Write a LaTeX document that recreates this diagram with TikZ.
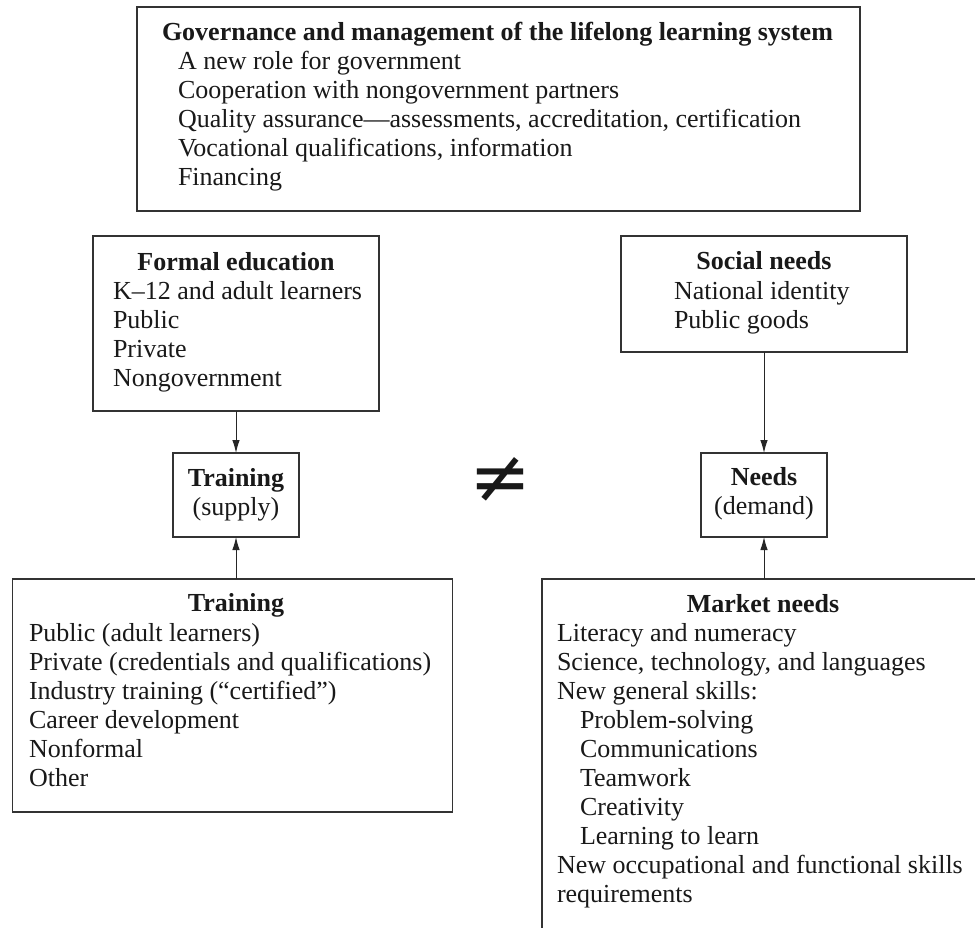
\documentclass[tikz,border=0pt]{standalone}
\usepackage{fontspec}
\setmainfont{Liberation Serif}
\newfontfamily\symfam{DejaVu Sans}
\usetikzlibrary{arrows.meta}
\begin{document}
\begin{tikzpicture}[x=1bp,y=-1bp,
  box/.style={draw=black!80, line width=1.2bp, inner sep=0pt, outer sep=0pt},
  txt/.style={inner sep=0pt, outer sep=0pt, font=\fontsize{26bp}{29bp}\selectfont, text=black!90},
  arr/.style={draw=black!85, line width=1bp, -{Latex[length=13bp,width=7.5bp]}}]
\clip (0,0) rectangle (975,928);
\fill[white] (0,0) rectangle (975,928);
% boxes
\node[box, minimum width=723bp, minimum height=204bp] (gov) at (498.5,109) {};
\node[box, minimum width=286bp, minimum height=175bp] (formal) at (236,323.5) {};
\node[box, minimum width=126bp, minimum height=84bp] (supply) at (236,495) {};
\node[box, minimum width=440bp, minimum height=233bp] (train) at (232.5,695.5) {};
\node[box, minimum width=286bp, minimum height=116bp] (social) at (764,294) {};
\node[box, minimum width=126bp, minimum height=84bp] (needs) at (764,495) {};
\node[box, minimum width=460bp, minimum height=400bp] (market) at (772,779) {};
% texts
\node[txt, anchor=base west] (govT) at (162,40) {\bfseries Governance and management of the lifelong learning system};
\node[txt, anchor=base west] (govL) at (178,69) {\begin{tabular}[t]{@{}l@{}}A new role for government\\ Cooperation with nongovernment partners\\ Quality assurance---assessments, accreditation, certification\\ Vocational qualifications, information\\ Financing\end{tabular}};
\node[txt, anchor=base] (formalT) at (236,270) {\bfseries Formal education};
\node[txt, anchor=base west] (formalL) at (113,299) {\begin{tabular}[t]{@{}l@{}}K--12 and adult learners\\ Public\\ Private\\ Nongovernment\end{tabular}};
\node[txt, anchor=base] (supplyT) at (236,486.5) {\begin{tabular}[t]{@{}c@{}}\bfseries Training\\ (supply)\end{tabular}};
\node[txt, anchor=base] (trainT) at (236,611.5) {\bfseries Training};
\node[txt, anchor=base west] (trainL) at (29,641) {\begin{tabular}[t]{@{}l@{}}Public (adult learners)\\ Private (credentials and qualifications)\\ Industry training (``certified'')\\ Career development\\ Nonformal\\ Other\end{tabular}};
\node[txt, anchor=base] (socialT) at (764,269.5) {\bfseries Social needs};
\node[txt, anchor=base west] (socialL) at (674,299) {\begin{tabular}[t]{@{}l@{}}National identity\\ Public goods\end{tabular}};
\node[txt, anchor=base] (needsT) at (764,485.5) {\begin{tabular}[t]{@{}c@{}}\bfseries Needs\\ (demand)\end{tabular}};
\node[txt, anchor=base] (marketT) at (763,612) {\bfseries Market needs};
\node[txt, anchor=base west] (marketL) at (557,641) {\begin{tabular}[t]{@{}l@{}}Literacy and numeracy\\ Science, technology, and languages\\ New general skills:\\ \hspace*{23bp}Problem-solving\\ \hspace*{23bp}Communications\\ \hspace*{23bp}Teamwork\\ \hspace*{23bp}Creativity\\ \hspace*{23bp}Learning to learn\\ New occupational and functional skills\\ requirements\end{tabular}};
\node[inner sep=0pt, text=black!90, font=\symfam\fontsize{74bp}{74bp}\selectfont] (neq) at (500,480) {≠};
% connectors
\draw[arr] (formal.south) -- (supply.north);
\draw[arr] (supply.south |- train.north) -- (supply.south);
\draw[arr] (social.south) -- (needs.north);
\draw[arr] (needs.south |- market.north) -- (needs.south);
\end{tikzpicture}
\end{document}
